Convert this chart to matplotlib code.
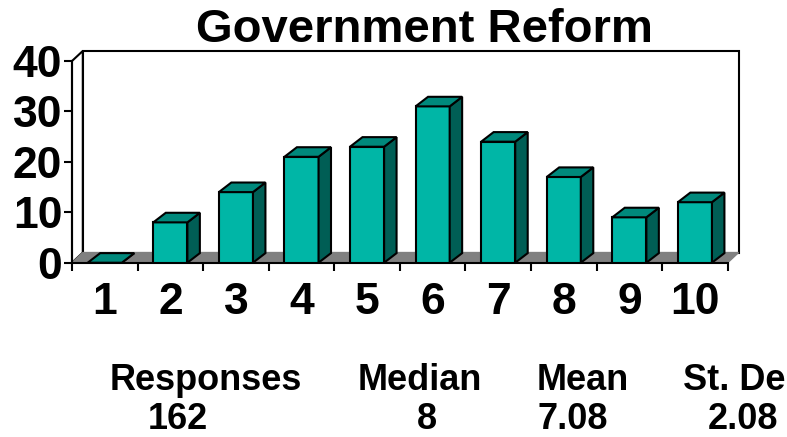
import matplotlib.pyplot as plt
from matplotlib.patches import Polygon

plt.rcParams['font.family'] = ['Liberation Sans', 'DejaVu Sans']
plt.rcParams['font.weight'] = 'bold'

# survey results
categories = ['1', '2', '3', '4', '5', '6', '7', '8', '9', '10']
counts = [0, 8, 14, 21, 23, 31, 24, 17, 9, 12]
y_ticks = [0, 10, 20, 30, 40]
stat_names = ['Responses', 'Median', 'Mean', 'St. De']
stat_values = ['162', '8', '7.08', '2.08']

front_col = '#00B6A6'
top_col = '#00897C'
side_col = '#005E55'
floor_col = '#808080'

W, H = 787, 437
fig = plt.figure(figsize=(W / 100, H / 100), dpi=100)
ax = fig.add_axes([72 / W, (H - 262.7) / H, 655.7 / W, (262.7 - 61) / H])
ax.set_xlim(0, len(categories))
ax.set_ylim(0, 40)

# depth of the box (walls / floor) and of the bars, in data units
wdx, wdy = 0.165, 2.0
bdx, bdy = 0.19, 1.9
bw = 0.52

# side wall, back wall, floor
ax.add_patch(Polygon([(0, 0), (0, 40), (wdx, 40 + wdy), (wdx, wdy)], closed=True,
                     facecolor='white', edgecolor='black', lw=1.5, zorder=1, clip_on=False))
ax.add_patch(Polygon([(wdx, wdy), (wdx, 40 + wdy), (10 + wdx, 40 + wdy), (10 + wdx, wdy)],
                     closed=True, facecolor='white', edgecolor='black', lw=1.5, zorder=1,
                     clip_on=False))
ax.add_patch(Polygon([(0, 0), (10, 0), (10 + wdx, wdy), (wdx, wdy)], closed=True,
                     facecolor=floor_col, edgecolor=floor_col, lw=1, zorder=1.2, clip_on=False))

xs = [i + 0.5 for i in range(len(categories))]
ax.bar(xs, counts, width=bw, color=front_col, edgecolor='black', linewidth=1.5, zorder=3)
for x, v in zip(xs, counts):
    l, r = x - bw / 2, x + bw / 2
    top = [(l, v), (r, v), (r + bdx, v + bdy), (l + bdx, v + bdy)]
    side = [(r, 0), (r, v), (r + bdx, v + bdy), (r + bdx, bdy)]
    ax.add_patch(Polygon(side, closed=True, facecolor=side_col, edgecolor='black',
                         lw=1.5, zorder=3, clip_on=False))
    ax.add_patch(Polygon(top, closed=True, facecolor=top_col, edgecolor='black',
                         lw=1.5, zorder=3, clip_on=False))

for s in ['top', 'right']:
    ax.spines[s].set_visible(False)
for s in ['left', 'bottom']:
    ax.spines[s].set_linewidth(1.5)
    ax.spines[s].set_zorder(2)

ax.set_xticks(range(len(categories) + 1))
ax.set_xticklabels([])
ax.set_xticks(xs, minor=True)
ax.set_xticklabels(categories, minor=True, fontsize=32, fontweight='bold')
ax.tick_params(axis='x', which='major', length=6, width=1.5, direction='out')
ax.tick_params(axis='x', which='minor', length=0, pad=14)
ax.set_yticks(y_ticks)
ax.set_yticklabels([str(t) for t in y_ticks], fontsize=32, fontweight='bold')
ax.tick_params(axis='y', length=6, width=1.5, direction='out', pad=1)

fig.text(424 / W, (H - 42) / H, 'Government Reform', ha='center', va='baseline',
         fontsize=34, fontweight='bold')

# summary statistics under the chart
name_x = [206, 420, 583, 683]
val_x = [178, 427, 573, 743]
for i, (n, v) in enumerate(zip(stat_names, stat_values)):
    ha = 'left' if i == 3 else 'center'
    fig.text(name_x[i] / W, (H - 390) / H, n, ha=ha, va='baseline',
             fontsize=26, fontweight='bold')
    fig.text(val_x[i] / W, (H - 429) / H, v, ha='center', va='baseline',
             fontsize=26, fontweight='bold')

fig.savefig('out.png', dpi=100)
